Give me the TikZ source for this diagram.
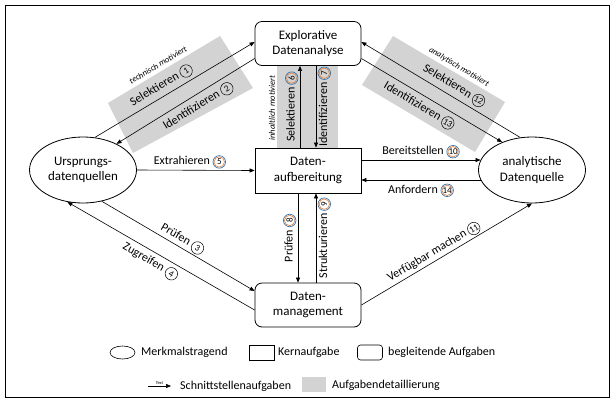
\documentclass[tikz,border=0pt]{standalone}
\usepackage{fontspec}
\setmainfont{Carlito}
\usetikzlibrary{shapes.geometric,arrows.meta}
\definecolor{cblue}{HTML}{2E75B6}
\definecolor{corange}{HTML}{ED7D31}
\definecolor{bandgray}{HTML}{D3D3D3}
\newcommand{\cnk}[1]{\tikz[baseline=(cn.base)]\node[circle,draw=black,line width=0.5pt,inner sep=0pt,minimum size=12.5pt,font=\fontsize{9}{9}\selectfont] (cn) {#1};}
\newcommand{\cnc}[1]{\tikz[baseline=(cn.base)]{\node[circle,draw=cblue,line width=0.7pt,inner sep=0pt,minimum size=12.5pt,font=\fontsize{9}{9}\selectfont] (cn) {#1}; \draw[corange,line width=0.6pt] (cn.center) circle[radius=5.2pt];}}
\begin{document}
\begin{tikzpicture}[x=1pt,y=-1pt,
  box/.style={draw,line width=0.8pt,minimum width=106pt,align=center,font=\fontsize{13}{15.5}\selectfont,inner sep=2pt},
  core/.style={box,rectangle,minimum height=45pt},
  accomp/.style={box,rounded corners=7pt,minimum height=44pt},
  feat/.style={draw,line width=0.8pt,ellipse,minimum width=107pt,minimum height=66pt,inner sep=0pt,align=center,font=\fontsize{13}{15.5}\selectfont},
  arr/.style={-{Triangle[length=5pt,width=4pt]},line width=0.6pt},
  arrl/.style={{Triangle[length=5pt,width=4pt]}-,line width=0.6pt},
  lbl/.style={font=\fontsize{12}{14}\selectfont,inner sep=1.5pt},
  motiv/.style={font=\fontsize{8.5}{9}\selectfont\itshape,inner sep=0pt},
  band/.style={fill=bandgray},
  leg/.style={font=\fontsize{12}{14}\selectfont,anchor=west,inner sep=0pt}
]
\useasboundingbox (0,0) rectangle (616,400);
\draw[line width=0.6pt] (5,5) rectangle (609,397);

% detail bands
\fill[band] (108,103) -- (220,36) -- (253,88) -- (133,153) -- cycle;
\fill[band] (362,85) -- (393,36) -- (505,102) -- (475,152) -- cycle;
\fill[band] (277,65) rectangle (338,148);

% main nodes
\node[accomp] (expl) at (308,43.5) {Explorative\\Datenanalyse};
\node[core] (aufb) at (308,170.5) {Daten-\\aufbereitung};
\node[accomp] (mgmt) at (308,305) {Daten-\\management};
\node[feat] (urs) at (83,170) {Ursprungs-\\datenquellen};
\node[feat] (ana) at (532,170) {analytische\\Datenquelle};

% motivation texts
\node[motiv,rotate=31] (tm) at (158,65) {technisch motiviert};
\node[motiv,rotate=-31] (am) at (459,67) {analytisch motiviert};
\node[motiv,rotate=90] (im) at (272,108) {inhaltlich motiviert};

% upper left
\draw[arr] (urs.70) -- ([yshift=1.5pt]expl.west) node[lbl,pos=0.45,sloped,above=2pt]{Selektieren \cnk{1}};
\draw[arrl] (urs.38) -- ([yshift=-15pt]expl.west) node[lbl,pos=0.55,sloped,below=3pt]{Identifizieren \cnk{2}};

% upper right
\draw[arrl] ([yshift=1.5pt]expl.east) -- (ana.110) node[lbl,pos=0.55,sloped,above=2pt]{Selektieren \cnk{12}};
\draw[arr] ([yshift=-15pt]expl.east) -- (ana.137) node[lbl,pos=0.45,sloped,below=3pt]{Identifizieren \cnk{13}};

% vertical upper
\draw[arr] ([xshift=-8pt]aufb.north) -- ([xshift=-8pt]expl.south) node[lbl,midway,sloped,above]{Selektieren \cnc{6}};
\draw[arrl] ([xshift=8pt]aufb.north) -- ([xshift=8pt]expl.south) node[lbl,midway,sloped,below]{Identifizieren \cnc{7}};

% horizontal
\draw[arr] (urs.east) -- (aufb.west) node[lbl,pos=0.45,above]{Extrahieren \cnc{5}};
\draw[arr] (aufb.east |- ana.169) -- (ana.169) node[lbl,midway,above]{Bereitstellen \cnc{10}};
\draw[arrl] (aufb.east |- ana.191) -- (ana.191) node[lbl,midway,below=2pt]{Anfordern \cnc{14}};

% vertical lower
\draw[arrl] ([xshift=-10pt]mgmt.north) -- ([xshift=-10pt]aufb.south) node[lbl,midway,sloped,above]{Prüfen \cnc{8}};
\draw[arr] ([xshift=8pt]mgmt.north) -- ([xshift=8pt]aufb.south) node[lbl,midway,sloped,below]{Strukturieren \cnc{9}};

% lower left
\draw[arr] (urs.-59) -- ([yshift=14pt]mgmt.west) node[lbl,midway,sloped,above]{Prüfen \cnk{3}};
\draw[arrl] (urs.244) -- ([yshift=-5pt]mgmt.west) node[lbl,pos=0.47,sloped,below=2pt]{Zugreifen \cnk{4}};

% lower right
\draw[arr] (mgmt.east) -- (ana.south) node[lbl,pos=0.45,sloped,above]{Verfügbar machen \cnk{11}};

% legend
\node[draw,ellipse,minimum width=25pt,minimum height=13pt,inner sep=0pt,line width=0.6pt] (lege) at (122.5,352.5) {};
\node[leg] (legetx) at (141,352.5) {Merkmalstragend};
\node[draw,minimum width=25pt,minimum height=15pt,inner sep=0pt,line width=0.6pt] (legr) at (261.5,352.5) {};
\node[leg] (legrtx) at (278,352.5) {Kernaufgabe};
\node[draw,rounded corners=3pt,minimum width=25pt,minimum height=15pt,inner sep=0pt,line width=0.6pt] (legb) at (370,352.5) {};
\node[leg] (legbtx) at (388,352.5) {begleitende Aufgaben};
\coordinate (la1) at (148,386);
\coordinate (la2) at (171,386);
\draw[arr] (la1) -- (la2) node[midway,above,font=\fontsize{4.5}{5}\selectfont,inner sep=0.8pt]{Text};
\node[leg] (legstx) at (180,386) {Schnittstellenaufgaben};
\node[fill=bandgray,minimum width=24pt,minimum height=15pt,inner sep=0pt] (legg) at (314,384.5) {};
\node[leg] (leggtx) at (332,385) {Aufgabendetaillierung};
\end{tikzpicture}
\end{document}
